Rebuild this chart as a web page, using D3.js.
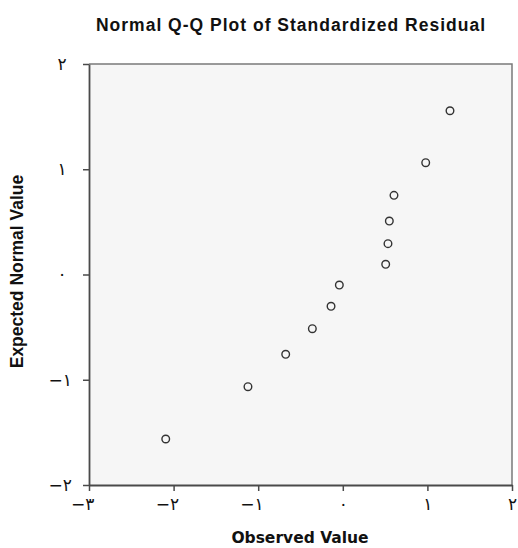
<!DOCTYPE html>
<html>
<head>
<meta charset="utf-8">
<script src="https://cdn.jsdelivr.net/npm/d3@7"></script>
<style>
  html, body { margin: 0; padding: 0; background: #ffffff; }
  svg { display: block; }
</style>
</head>
<body>
<svg id="chart" width="518" height="548"></svg>
<script>
// Data (standardized residual vs expected normal value)
const observed = [1.267, 0.980, 0.605, 0.550, 0.534, 0.507, -0.041, -0.139, -0.360, -0.675, -1.121, -2.093];
const expected = [1.556, 1.062, 0.752, 0.508, 0.293, 0.097, -0.100, -0.302, -0.515, -0.758, -1.066, -1.563];
const xTicks = [-3, -2, -1, 0, 1, 2];
const yTicks = [-2, -1, 0, 1, 2];
const title = "Normal Q-Q Plot of Standardized Residual";
const xTitle = "Observed Value";
const yTitle = "Expected Normal Value";

const arabicDigits = "٠١٢٣٤٥٦٧٨٩";
function fmt(v) {
  const s = String(Math.abs(v)).replace(/[0-9]/g, d => arabicDigits[+d]);
  return (v < 0 ? "\u2212" : "") + s;
}

const svg = d3.select("#chart");
const pLeft = 89, pRight = 512, pTop = 64, pBottom = 485;

const x = d3.scaleLinear().domain([-3, 2]).range([pLeft, pRight]);
const y = d3.scaleLinear().domain([-2, 2]).range([pBottom, pTop]);

// plot area background
svg.append("rect")
  .attr("x", pLeft).attr("y", pTop)
  .attr("width", pRight - pLeft).attr("height", pBottom - pTop)
  .attr("fill", "#f6f6f6");

// top and right frame
svg.append("path")
  .attr("d", `M${pLeft},${pTop}H${pRight}V${pBottom}`)
  .attr("fill", "none").attr("stroke", "#7a7a7a").attr("stroke-width", 1.5);

// axes
const xAxis = d3.axisBottom(x).tickValues(xTicks).tickSize(6).tickFormat(fmt).tickSizeOuter(0);
const yAxis = d3.axisLeft(y).tickValues(yTicks).tickSize(6).tickFormat(fmt).tickSizeOuter(0);

const gx = svg.append("g").attr("transform", `translate(0,${pBottom})`).call(xAxis);
const gy = svg.append("g").attr("transform", `translate(${pLeft},0)`).call(yAxis);

[gx, gy].forEach(g => {
  g.select(".domain").attr("stroke", "#4a4a4a").attr("stroke-width", 1.8);
  g.selectAll(".tick line").attr("stroke", "#4a4a4a").attr("stroke-width", 1.5);
  g.selectAll(".tick text")
    .attr("font-family", "DejaVu Sans, sans-serif")
    .attr("font-size", 17)
    .attr("fill", "#111")
    .attr("direction", "ltr");
});
gx.selectAll(".tick text")
  .attr("y", 13).attr("dy", "0.71em")
  .attr("text-anchor", d => d < 0 ? "end" : "middle")
  .attr("x", d => d < 0 ? 5 : 0);
gy.selectAll(".tick text")
  .attr("dy", "0.32em")
  .attr("text-anchor", d => d < 0 ? "end" : "middle")
  .attr("x", d => d < 0 ? -17 : -27);

// points
svg.append("g").selectAll("circle")
  .data(observed.map((v, i) => [v, expected[i]]))
  .join("circle")
  .attr("cx", d => x(d[0]))
  .attr("cy", d => y(d[1]))
  .attr("r", 3.8)
  .attr("fill", "none")
  .attr("stroke", "#333")
  .attr("stroke-width", 1.4);

// titles
svg.append("text")
  .attr("x", 291).attr("y", 31)
  .attr("text-anchor", "middle")
  .attr("font-family", "Liberation Sans, Arial, sans-serif")
  .attr("font-weight", "bold")
  .attr("font-size", 17.5)
  .attr("letter-spacing", 1)
  .attr("fill", "#111")
  .text(title);

svg.append("text")
  .attr("x", 300).attr("y", 543)
  .attr("text-anchor", "middle")
  .attr("font-family", "DejaVu Sans, sans-serif")
  .attr("font-weight", "bold")
  .attr("font-size", 15.5)
  .attr("fill", "#111")
  .text(xTitle);

svg.append("text")
  .attr("transform", "translate(23,271.5) rotate(-90)")
  .attr("text-anchor", "middle")
  .attr("font-family", "Liberation Sans, Arial, sans-serif")
  .attr("font-weight", "bold")
  .attr("font-size", 17.5)
  .attr("fill", "#111")
  .text(yTitle);
</script>
</body>
</html>
